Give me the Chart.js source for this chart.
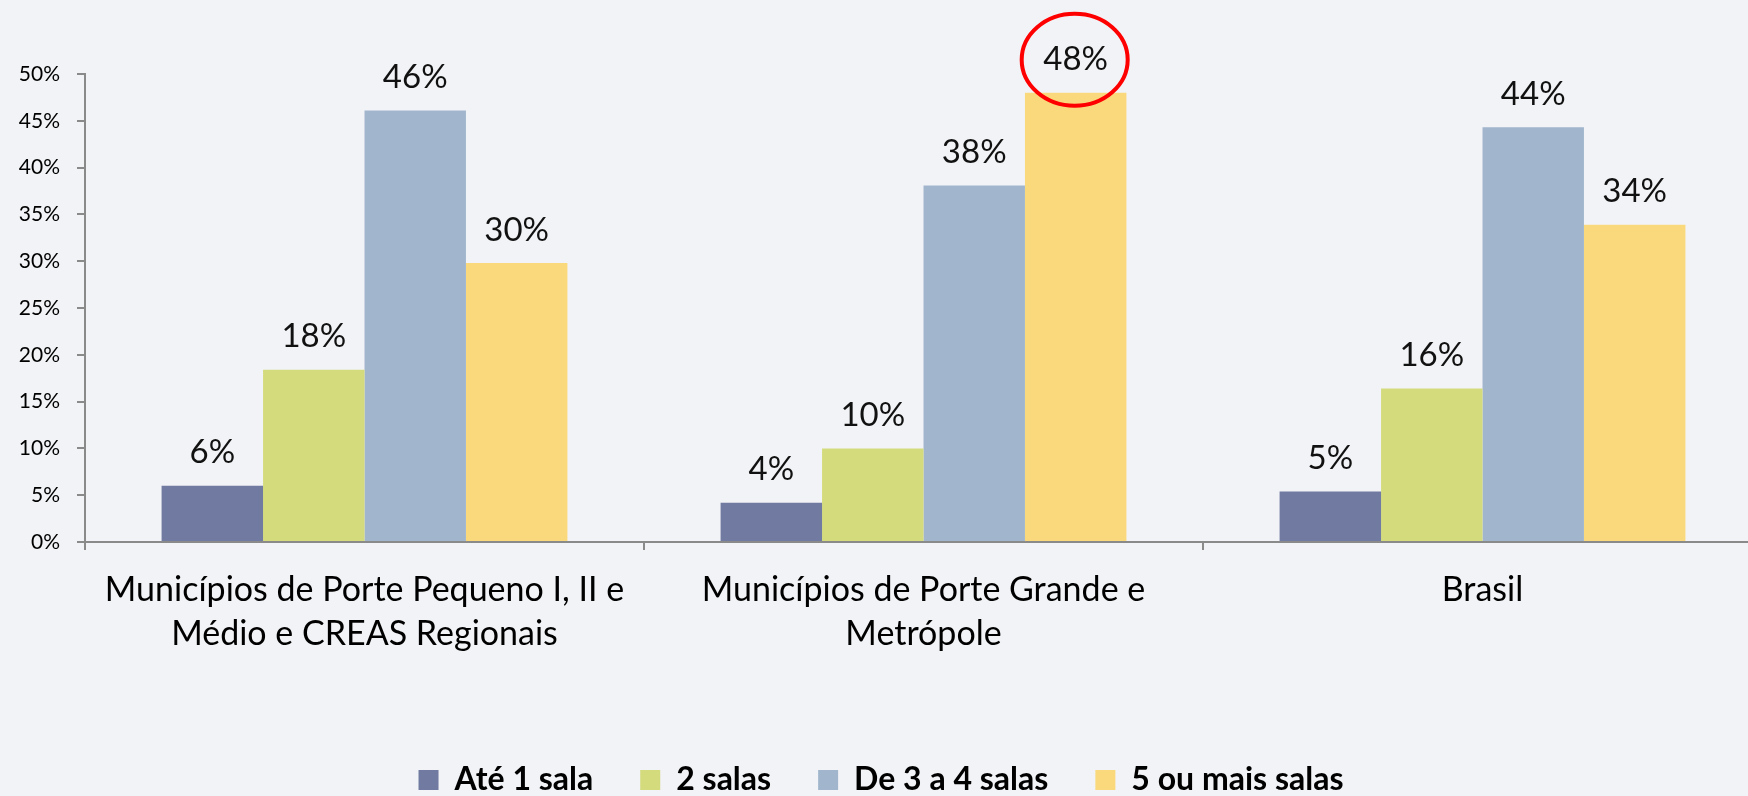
<!DOCTYPE html>
<html>
<head>
<meta charset="utf-8">
<script src="https://cdn.jsdelivr.net/npm/chart.js@4.4.1/dist/chart.umd.min.js"></script>
<style>
  html, body { margin: 0; padding: 0; overflow: hidden; background: #f2f3f6; }
  #wrap { width: 1762px; height: 796px; }
</style>
</head>
<body>
<div id="wrap"><canvas id="salasChart" width="1762" height="796"></canvas></div>
<script>
// categories (x axis)
const categories = [
  ['Municípios de Porte Pequeno I, II e', 'Médio e CREAS Regionais'],
  ['Municípios de Porte Grande e', 'Metrópole'],
  'Brasil'
];
const seriesNames = ['Até 1 sala', '2 salas', 'De 3 a 4 salas', '5 ou mais salas'];

// values in %
const ate1Sala = [6.0, 4.2, 5.4];
const duasSalas = [18.4, 10.0, 16.4];
const tresQuatroSalas = [46.1, 38.1, 44.3];
const cincoOuMais = [29.8, 48.0, 33.9];

const yMax = 50;
const yStep = 5;

const colors = ['#717aa0', '#d4db7c', '#a1b6cd', '#f9d97b'];
const FONT = 'Lato, "Open Sans", sans-serif';

// value labels above every bar
const barLabels = {
  id: 'barLabels',
  afterDatasetsDraw(chart) {
    const ctx = chart.ctx;
    ctx.save();
    ctx.font = '33px ' + FONT;
    ctx.fillStyle = '#111';
    ctx.textAlign = 'center';
    ctx.textBaseline = 'middle';
    chart.data.datasets.forEach((ds, i) => {
      chart.getDatasetMeta(i).data.forEach((bar, j) => {
        ctx.fillText(Math.round(ds.data[j]) + '%', bar.x, bar.y - 33);
      });
    });
    ctx.restore();
  }
};

// red circle highlighting the 48% label
const highlight = {
  id: 'highlight',
  afterDraw(chart) {
    const bar = chart.getDatasetMeta(3).data[1];
    const ctx = chart.ctx;
    ctx.save();
    ctx.strokeStyle = '#ff0000';
    ctx.lineWidth = 4;
    ctx.beginPath();
    ctx.ellipse(bar.x - 1, bar.y - 33, 53, 46, 0, 0, Math.PI * 2);
    ctx.stroke();
    ctx.restore();
  }
};

const ctx = document.getElementById('salasChart').getContext('2d');
new Chart(ctx, {
  type: 'bar',
  data: {
    labels: categories,
    datasets: [
      { label: seriesNames[0], data: ate1Sala, backgroundColor: colors[0] },
      { label: seriesNames[1], data: duasSalas, backgroundColor: colors[1] },
      { label: seriesNames[2], data: tresQuatroSalas, backgroundColor: colors[2] },
      { label: seriesNames[3], data: cincoOuMais, backgroundColor: colors[3] }
    ]
  },
  options: {
    responsive: false,
    animation: false,
    categoryPercentage: 0.726,
    barPercentage: 1.0,
    layout: { padding: { top: 74, bottom: -10, left: 0, right: 0 } },
    plugins: {
      legend: {
        position: 'bottom',
        labels: {
          boxWidth: 20,
          boxHeight: 20,
          padding: 47,
          color: '#000',
          font: { family: FONT, size: 32, weight: 'bold' }
        }
      },
      tooltip: { enabled: false }
    },
    scales: {
      y: {
        min: 0,
        max: yMax,
        afterFit(scale) { scale.width = 85; },
        ticks: {
          stepSize: yStep,
          padding: 17,
          color: '#000',
          font: { family: FONT, size: 21 },
          callback: v => v + '%'
        },
        grid: { drawOnChartArea: false, tickLength: 8, color: '#8a8a8a', lineWidth: 2 },
        border: { color: '#8a8a8a', width: 2 }
      },
      x: {
        afterFit(scale) { scale.height = 175; },
        ticks: {
          padding: 18,
          color: '#000',
          maxRotation: 0,
          font: { family: FONT, size: 34, lineHeight: 1.3 }
        },
        grid: { drawOnChartArea: false, tickLength: 8, color: '#8a8a8a', lineWidth: 2 },
        border: { color: '#8a8a8a', width: 2 }
      }
    }
  },
  plugins: [barLabels, highlight]
});
</script>
</body>
</html>
